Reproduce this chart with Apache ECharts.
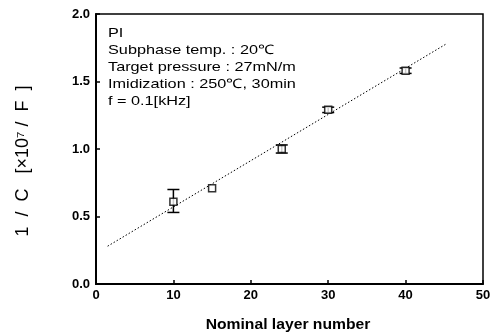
<!DOCTYPE html>
<html>
<head>
<meta charset="utf-8">
<script src="https://cdn.jsdelivr.net/npm/echarts@6/dist/echarts.min.js"></script>
<style>
  html, body { margin: 0; padding: 0; background: #fff; }
  #chart { width: 494px; height: 334px; }
</style>
</head>
<body>
<div id="chart"></div>
<script>
// measured points (nominal layer number vs 1/C)
var layers = [10, 15, 24, 30, 40];
var invC = [0.61, 0.71, 1.00, 1.29, 1.58];
var errLow = [0.53, 0.71, 0.97, 1.27, 1.56];
var errHigh = [0.70, 0.71, 1.03, 1.31, 1.60];
// dotted fit line end points
var fitX = [1.5, 45.3];
var fitY = [0.28, 1.78];
var xTicks = [0, 10, 20, 30, 40, 50];
var yTicks = [0.0, 0.5, 1.0, 1.5, 2.0];
var notes = ['PI', 'Subphase temp. : 20\u2103', 'Target pressure : 27mN/m',
  'Imidization : 250\u2103, 30min', 'f = 0.1[kHz]'];
var xName = 'Nominal layer number';
var yName = '1  /  C   [\u00d710\u2077 /  F  ]';

var font = 'Liberation Sans, Arial, sans-serif';

var chart = echarts.init(document.getElementById('chart'));

var texts = notes.map(function (t, i) {
  return {
    type: 'text', x: 108, y: 33 + i * 17.2, scaleX: 1.25,
    style: { text: t, fill: '#000', font: '13px ' + font, textVerticalAlign: 'middle' }
  };
});
texts.push({
  type: 'text', x: 288, y: 325, scaleX: 1.12,
  style: { text: xName, fill: '#000', font: 'bold 14px ' + font,
    textAlign: 'center', textVerticalAlign: 'middle' }
});
texts.push({
  type: 'text', x: 23, y: 161, rotation: Math.PI / 2,
  style: { text: yName, fill: '#000', font: '18px ' + font,
    textAlign: 'center', textVerticalAlign: 'middle' }
});

chart.setOption({
  animation: false,
  grid: {
    left: 96, right: 11, top: 14, bottom: 50,
    show: true, borderColor: '#000', borderWidth: 1.5
  },
  xAxis: {
    type: 'value', min: xTicks[0], max: xTicks[xTicks.length - 1], interval: 10,
    axisLine: { lineStyle: { color: '#000', width: 2 } },
    axisTick: { inside: true, length: 4, lineStyle: { color: '#000', width: 1.5 } },
    axisLabel: { color: '#000', fontSize: 13, fontWeight: 'bold', fontFamily: font, margin: 5 },
    splitLine: { show: false }
  },
  yAxis: {
    type: 'value', min: yTicks[0], max: yTicks[yTicks.length - 1], interval: 0.5,
    axisLine: { lineStyle: { color: '#000', width: 2 } },
    axisTick: { inside: true, length: 4, lineStyle: { color: '#000', width: 1.5 } },
    axisLabel: { color: '#000', fontSize: 13, fontWeight: 'bold', fontFamily: font, margin: 6,
      formatter: function (v) { return v.toFixed(1); } },
    splitLine: { show: false }
  },
  graphic: texts,
  series: [
    {
      type: 'line',
      data: fitX.map(function (x, i) { return [x, fitY[i]]; }),
      symbol: 'none',
      lineStyle: { color: '#000', width: 1, type: [1.5, 2] },
      z: 1
    },
    {
      type: 'custom',
      data: layers.map(function (x, i) { return [x, errLow[i], errHigh[i]]; }),
      renderItem: function (params, api) {
        if (api.value(1) === api.value(2)) return null;
        var lo = api.coord([api.value(0), api.value(1)]);
        var hi = api.coord([api.value(0), api.value(2)]);
        var w = 6;
        var st = { stroke: '#000', lineWidth: 1.5 };
        return {
          type: 'group',
          children: [
            { type: 'line', shape: { x1: lo[0], y1: lo[1], x2: hi[0], y2: hi[1] }, style: st },
            { type: 'line', shape: { x1: lo[0] - w, y1: lo[1], x2: lo[0] + w, y2: lo[1] }, style: st },
            { type: 'line', shape: { x1: hi[0] - w, y1: hi[1], x2: hi[0] + w, y2: hi[1] }, style: st }
          ]
        };
      },
      z: 2
    },
    {
      type: 'scatter',
      data: layers.map(function (x, i) { return [x, invC[i]]; }),
      symbol: 'rect', symbolSize: 7,
      itemStyle: { color: '#fff', borderColor: '#000', borderWidth: 1.5 },
      z: 3
    }
  ]
});
</script>
</body>
</html>
